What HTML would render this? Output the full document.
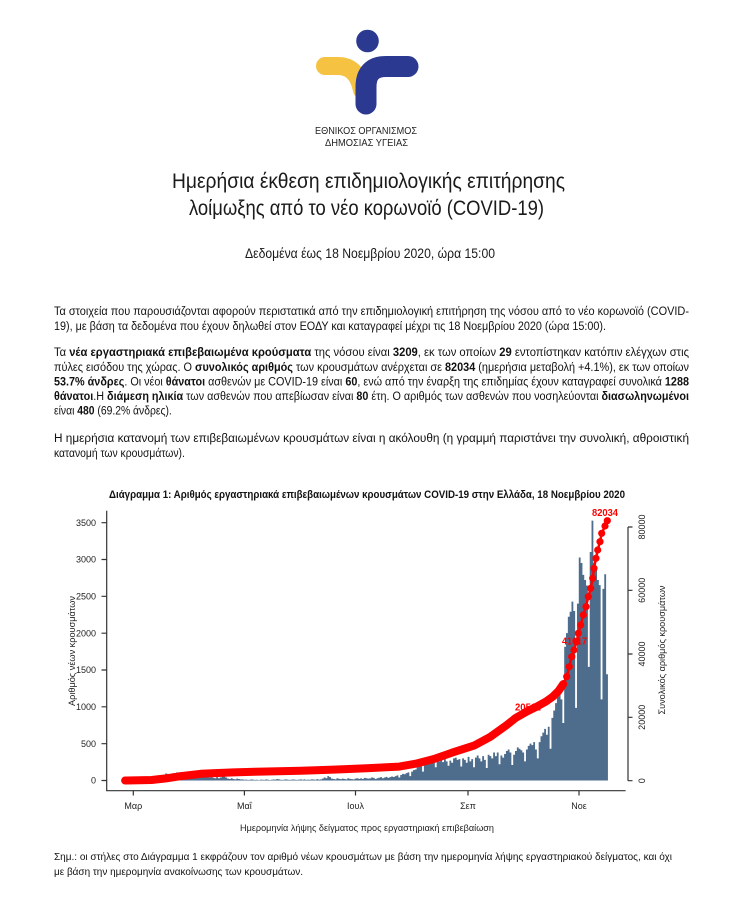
<!DOCTYPE html>
<html><head><meta charset="utf-8"><style>
html,body{margin:0;padding:0;background:#fff;}
svg{display:block;font-family:"Liberation Sans","Noto Sans CJK SC",sans-serif;}
</style></head><body>
<svg width="751" height="897" viewBox="0 0 751 897" xmlns="http://www.w3.org/2000/svg">
<rect width="751" height="897" fill="#fff"/>
<!-- logo -->
<path d="M325 66 H338 Q357 66 362 90" stroke="#F5C242" stroke-width="18" fill="none" stroke-linecap="round"/>
<path d="M408 66.5 H386 Q366 66.5 366 87 V104" stroke="#2B3990" stroke-width="21" fill="none" stroke-linecap="round" stroke-linejoin="round"/>
<circle cx="367.5" cy="41" r="11.3" fill="#2B3990"/>
<text x="315" y="134" font-size="10.5" fill="#222" textLength="102" lengthAdjust="spacingAndGlyphs">ΕΘΝΙΚΟΣ ΟΡΓΑΝΙΣΜΟΣ</text>
<text x="325" y="146" font-size="10.5" fill="#222" textLength="83" lengthAdjust="spacingAndGlyphs">ΔΗΜΟΣΙΑΣ ΥΓΕΙΑΣ</text>
<!-- titles -->
<text x="172" y="188" font-size="21" fill="#1a1a1a" textLength="393" lengthAdjust="spacingAndGlyphs">Ημερήσια έκθεση επιδημιολογικής επιτήρησης</text>
<text x="189" y="215" font-size="21" fill="#1a1a1a" textLength="355" lengthAdjust="spacingAndGlyphs">λοίμωξης από το νέο κορωνοϊό (COVID-19)</text>
<text x="245" y="258" font-size="13.5" fill="#1a1a1a" textLength="250" lengthAdjust="spacingAndGlyphs">Δεδομένα έως 18 Νοεμβρίου 2020, ώρα 15:00</text>
<!-- paragraphs -->
<g font-size="11.5" fill="#111">
<text x="54" y="315" textLength="635" lengthAdjust="spacingAndGlyphs">Τα στοιχεία που παρουσιάζονται αφορούν περιστατικά από την επιδημιολογική επιτήρηση της νόσου από το νέο κορωνοϊό (COVID-</text>
<text x="54" y="330" textLength="552" lengthAdjust="spacingAndGlyphs">19), με βάση τα δεδομένα που έχουν δηλωθεί στον ΕΟΔΥ και καταγραφεί μέχρι τις 18 Νοεμβρίου 2020 (ώρα 15:00).</text>
<text x="54" y="356" textLength="635" lengthAdjust="spacingAndGlyphs">Τα <tspan font-weight="bold">νέα εργαστηριακά επιβεβαιωμένα κρούσματα</tspan> της νόσου είναι <tspan font-weight="bold">3209</tspan>, εκ των οποίων <tspan font-weight="bold">29</tspan> εντοπίστηκαν κατόπιν ελέγχων στις</text>
<text x="54" y="371" textLength="635" lengthAdjust="spacingAndGlyphs">πύλες εισόδου της χώρας. Ο <tspan font-weight="bold">συνολικός αριθμός</tspan> των κρουσμάτων ανέρχεται σε <tspan font-weight="bold">82034</tspan> (ημερήσια μεταβολή +4.1%), εκ των οποίων</text>
<text x="54" y="385.5" textLength="635" lengthAdjust="spacingAndGlyphs"><tspan font-weight="bold">53.7% άνδρες</tspan>. Οι νέοι <tspan font-weight="bold">θάνατοι</tspan> ασθενών με COVID-19 είναι <tspan font-weight="bold">60</tspan>, ενώ από την έναρξη της επιδημίας έχουν καταγραφεί συνολικά <tspan font-weight="bold">1288</tspan></text>
<text x="54" y="400" textLength="635" lengthAdjust="spacingAndGlyphs"><tspan font-weight="bold">θάνατοι</tspan>.Η <tspan font-weight="bold">διάμεση ηλικία</tspan> των ασθενών που απεβίωσαν είναι <tspan font-weight="bold">80</tspan> έτη. Ο αριθμός των ασθενών που νοσηλεύονται <tspan font-weight="bold">διασωληνωμένοι</tspan></text>
<text transform="translate(54,414.5) scale(0.9,1)">είναι <tspan font-weight="bold">480</tspan> (69.2% άνδρες).</text>
<text x="54" y="442" textLength="635" lengthAdjust="spacingAndGlyphs">Η ημερήσια κατανομή των επιβεβαιωμένων κρουσμάτων είναι η ακόλουθη (η γραμμή παριστάνει την συνολική, αθροιστική</text>
<text transform="translate(54,457) scale(0.9,1)">κατανομή των κρουσμάτων).</text>
</g>
<!-- chart title -->
<text x="109" y="498" font-size="11" font-weight="bold" fill="#111" textLength="516" lengthAdjust="spacingAndGlyphs">Διάγραμμα 1: Αριθμός εργαστηριακά επιβεβαιωμένων κρουσμάτων COVID-19 στην Ελλάδα, 18 Νοεμβρίου 2020</text>
<!-- bars -->
<g transform="translate(133.3 780.5) scale(1.822 -0.07371)">
<path fill="#4e6d8c" d="M-4.5 0V1h1V1h1V1h1V3h1V2h1V2h1V3h1V3h1V10h1V15h1V8h1V10h1V20h1V18h1V30h1V25h1V50h1V40h1V70h1V55h1V60h1V80h1V95h1V90h1V85h1V95h1V100h1V90h1V110h1V75h1V100h1V95h1V80h1V85h1V90h1V100h1V70h1V80h1V60h1V75h1V60h1V55h1V70h1V50h1V45h1V60h1V40h1V55h1V35h1V30h1V45h1V30h1V40h1V150h1V70h1V40h1V25h1V20h1V30h1V20h1V15h1V25h1V20h1V15h1V15h1V10h1V12h1V8h1V10h1V15h1V10h1V8h1V10h1V5h1V12h1V10h1V8h1V15h1V10h1V6h1V10h1V14h1V12h1V20h1V15h1V10h1V8h1V12h1V16h1V10h1V8h1V12h1V14h1V10h1V8h1V12h1V16h1V10h1V15h1V8h1V12h1V10h1V16h1V14h1V10h1V18h1V12h1V15h1V25h1V40h1V30h1V60h1V45h1V25h1V20h1V15h1V30h1V22h1V18h1V25h1V20h1V16h1V30h1V22h1V18h1V15h1V25h1V30h1V22h1V28h1V20h1V35h1V30h1V25h1V28h1V40h1V35h1V20h1V30h1V38h1V45h1V30h1V40h1V50h1V35h1V45h1V55h1V48h1V60h1V70h1V40h1V75h1V90h1V85h1V100h1V110h1V60h1V120h1V140h1V150h1V180h1V200h1V210h1V120h1V220h1V240h1V250h1V230h1V270h1V250h1V180h1V280h1V260h1V300h1V250h1V290h1V260h1V200h1V270h1V240h1V300h1V310h1V280h1V290h1V190h1V300h1V280h1V240h1V320h1V260h1V290h1V180h1V310h1V340h1V300h1V260h1V330h1V280h1V170h1V350h1V330h1V300h1V380h1V330h1V380h1V220h1V340h1V310h1V360h1V400h1V420h1V380h1V210h1V350h1V400h1V450h1V430h1V410h1V380h1V260h1V420h1V470h1V500h1V480h1V520h1V420h1V300h1V520h1V600h1V650h1V700h1V620h1V730h1V430h1V850h1V950h1V1050h1V1137h1V1230h1V1100h1V780h1V1815h1V2000h1V2222h1V2290h1V2426h1V2300h1V985h1V2400h1V3026h1V2951h1V2790h1V2720h1V2646h1V1542h1V3100h1V3525h1V2950h1V2868h1V2720h1V2650h1V1100h1V2600h1V2798h1V1442h1V0Z"/>
</g>
<!-- red labels (under line) -->
<g font-size="10" font-weight="bold" fill="#f00">
<text x="515" y="710.5" textLength="26" lengthAdjust="spacingAndGlyphs">20511</text>
<text x="562" y="644.5" textLength="25" lengthAdjust="spacingAndGlyphs">41017</text>
<text x="592" y="516" textLength="26" lengthAdjust="spacingAndGlyphs">82034</text>
</g>
<!-- cumulative line -->
<polyline fill="none" stroke="#f00" stroke-width="8" stroke-linecap="round" stroke-linejoin="round" points="125.1,780.5 133.3,780.4 151.5,780 166.1,778.4 178.9,776.4 189.8,775.1 200.7,773.8 215.3,773.1 233.5,772.4 260.8,771.6 300.9,770.7 333.7,769.6 366.5,768.3 399.3,766.6 415.7,763.7 433.9,759 452.2,752.6 474,745.6 490.4,736.8 506.8,725 515.9,717.8 526.9,711.5 537,706.5 546,701.5 553,696.5 558.5,691 563.3,684"/>
<polyline fill="none" stroke="#f00" stroke-width="2.5" stroke-linejoin="round" points="563.3,684 566.7,676.7 569.3,666.7 571.7,656.7 574,650 576.7,641.7 578.3,633.3 580.7,625 583.3,615 586,606.7 588.3,596.7 590.7,588.3 592.7,578.3 594,568.3 596,558.3 597.7,550 600,541.7 601.7,533.3 605,526 607.3,520.7"/>
<g fill="#f00">
<circle cx="563.3" cy="684" r="3.6"/><circle cx="566.7" cy="676.7" r="3.6"/><circle cx="569.3" cy="666.7" r="3.6"/><circle cx="571.7" cy="656.7" r="3.6"/><circle cx="574" cy="650" r="3.6"/><circle cx="576.7" cy="641.7" r="3.6"/><circle cx="578.3" cy="633.3" r="3.6"/><circle cx="580.7" cy="625" r="3.6"/><circle cx="583.3" cy="615" r="3.6"/><circle cx="586" cy="606.7" r="3.6"/><circle cx="588.3" cy="596.7" r="3.6"/><circle cx="590.7" cy="588.3" r="3.6"/><circle cx="592.7" cy="578.3" r="3.6"/><circle cx="594" cy="568.3" r="3.6"/><circle cx="596" cy="558.3" r="3.6"/><circle cx="597.7" cy="550" r="3.6"/><circle cx="600" cy="541.7" r="3.6"/><circle cx="601.7" cy="533.3" r="3.6"/><circle cx="605" cy="526" r="3.6"/><circle cx="607.3" cy="520.7" r="3.6"/>
</g>
<!-- axes -->
<g stroke="#333" stroke-width="1.2" fill="none">
<path d="M106.7 510.7 V790.7 H625.6"/>
<path d="M101.5 780.5H106.7M101.5 743.7H106.7M101.5 706.8H106.7M101.5 670H106.7M101.5 633.2H106.7M101.5 596.3H106.7M101.5 559.5H106.7M101.5 522.7H106.7"/>
<path d="M133.3 790.7V795.5M244.4 790.7V795.5M355.5 790.7V795.5M468 790.7V795.5M579 790.7V795.5"/>
<path d="M628 527V780.7M628 527H632.5M628 590.3H632.5M628 654H632.5M628 717.3H632.5M628 780.7H632.5"/>
</g>
<g font-size="9" fill="#222" text-anchor="end">
<text x="96" y="783.7">0</text>
<text x="96" y="746.9">500</text>
<text x="96" y="710">1000</text>
<text x="96" y="673.2">1500</text>
<text x="96" y="636.4">2000</text>
<text x="96" y="599.5">2500</text>
<text x="96" y="562.7">3000</text>
<text x="96" y="525.9">3500</text>
</g>
<g font-size="9" fill="#222" text-anchor="middle">
<text x="133.3" y="809">Μαρ</text>
<text x="244.4" y="809">Μαΐ</text>
<text x="355.5" y="809">Ιουλ</text>
<text x="468" y="809">Σεπ</text>
<text x="579" y="809">Νοε</text>
<text transform="translate(645 780.7) rotate(-90)">0</text>
<text transform="translate(645 717.3) rotate(-90)">20000</text>
<text transform="translate(645 654) rotate(-90)">40000</text>
<text transform="translate(645 590.3) rotate(-90)">60000</text>
<text transform="translate(645 527) rotate(-90)">80000</text>
</g>
<g font-size="9.5" fill="#222" text-anchor="middle">
<text x="367" y="831" textLength="254" lengthAdjust="spacingAndGlyphs">Ημερομηνία λήψης δείγματος προς εργαστηριακή επιβεβαίωση</text>
<text transform="translate(75 651) rotate(-90)" textLength="110" lengthAdjust="spacingAndGlyphs">Αριθμός νέων κρουσμάτων</text>
<text transform="translate(665 650) rotate(-90)" textLength="129" lengthAdjust="spacingAndGlyphs">Συνολικός αριθμός κρουσμάτων</text>
</g>
<!-- footnote -->
<g font-size="10.5" fill="#111">
<text x="54" y="860" textLength="618" lengthAdjust="spacingAndGlyphs">Σημ.: οι στήλες στο Διάγραμμα 1 εκφράζουν τον αριθμό νέων κρουσμάτων με βάση την ημερομηνία λήψης εργαστηριακού δείγματος, και όχι</text>
<text x="54" y="875" textLength="249" lengthAdjust="spacingAndGlyphs">με βάση την ημερομηνία ανακοίνωσης των κρουσμάτων.</text>
</g>
</svg>
</body></html>
